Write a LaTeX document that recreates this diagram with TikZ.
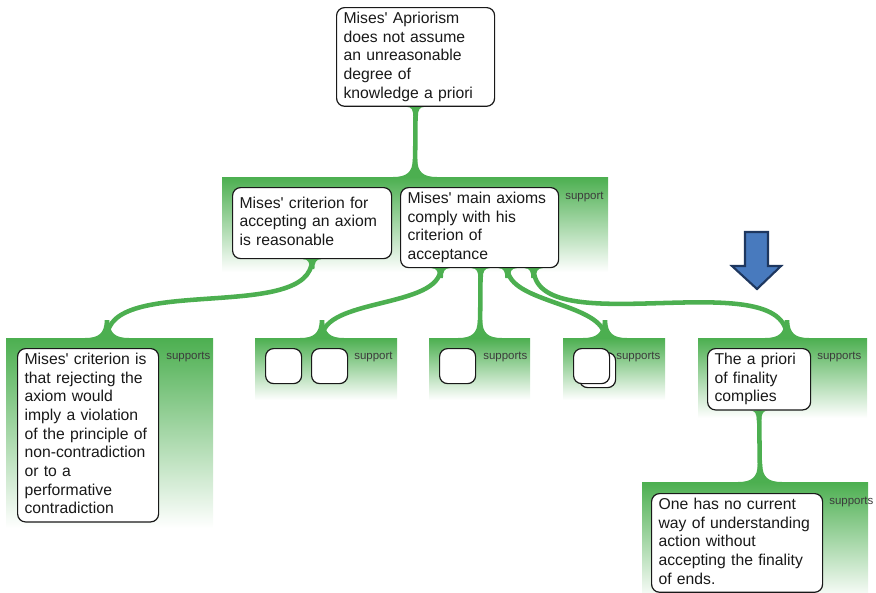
\documentclass[tikz,border=0pt]{standalone}
\usepackage{fontspec}
\setmainfont{Liberation Sans}
\usetikzlibrary{calc}
\pgfdeclarelayer{background}
\pgfsetlayers{background,main}
\definecolor{gr}{RGB}{76,175,80}
\definecolor{arrowfill}{RGB}{72,122,190}
\definecolor{arrowline}{RGB}{30,55,95}
\definecolor{ink}{RGB}{25,25,25}
\newcommand{\q}{\textquotesingle}
\begin{document}
\begin{tikzpicture}[x=0.75pt,y=-0.75pt,
 box/.style={draw=ink, line width=0.9pt, fill=white, rounded corners=6pt, anchor=north west, align=left, inner xsep=5.25pt, inner ysep=2pt, font=\fontsize{11.8}{14}\selectfont, text=ink},
 emptybox/.style={draw=ink, line width=0.9pt, fill=white, rounded corners=6pt, anchor=north west, minimum width=27pt, minimum height=26.25pt, inner sep=0pt},
 lab/.style={font=\fontsize{8.6}{10}\selectfont, text=ink!85, anchor=west, inner sep=0pt},
 grp/.style={top color=gr, bottom color=white, draw=none},
 conn/.style={draw=gr, line width=3.4pt},
 curve/.style={out=-90, in=90, looseness=0.75},
 pics/flaredown/.style={code={\fill[gr] (-2.3,-18) .. controls (-2.3,-5) and (-8,0) .. (-22,0) -- (22,0) .. controls (8,0) and (2.3,-5) .. (2.3,-18) -- cycle;}},
 pics/flareup/.style={code={\fill[gr] (-2.3,10) .. controls (-2.3,3) and (-4,0) .. (-9,0) -- (9,0) .. controls (4,0) and (2.3,3) .. (2.3,10) -- cycle;}},
]
\useasboundingbox (0,0) rectangle (876,593);

% boxes
\node[box, text width=108pt] (top) at (336,7) {\strut Mises\q\ Apriorism\\does not assume\\an unreasonable\\degree of\\knowledge a priori\strut};
\node[box, text width=108.75pt, minimum height=53.25pt] (crit) at (232,187) {\strut Mises\q\ criterion for\\accepting an axiom\\is reasonable\strut};
\node[box, text width=108pt] (main) at (400,187) {\strut Mises\q\ main axioms\\comply with his\\criterion of\\acceptance\strut};
\node[box, text width=95.25pt] (left) at (17,348) {\strut Mises\q\ criterion is\\that rejecting the\\axiom would\\imply a violation\\of the principle of\\non-contradiction\\or to a\\performative\\contradiction\strut};
\node[emptybox] (e1) at (265,348) {};
\node[emptybox] (e2) at (311,348) {};
\node[emptybox] (e3) at (439,348) {};
\node[emptybox] (e4b) at (579,352) {};
\node[emptybox] (e4) at (573,348) {};
\node[box, text width=66.75pt] (comp) at (707,348) {\strut The a priori\\of finality\\complies\strut};
\node[box, text width=117.75pt] (ends) at (651,493) {\strut One has no current\\way of understanding\\action without\\accepting the finality\\of ends.\strut};

% labels
\node[lab] (l1) at (565,197) {support};
\node[lab] (l2) at (166,357) {supports};
\node[lab] (l3) at (354,357) {support};
\node[lab] (l4) at (483,357) {supports};
\node[lab] (l5) at (616,357) {supports};
\node[lab] (l6) at (817,357) {supports};
\node[lab] (l7) at (829,502) {supports};

% junction points
\coordinate (j1) at (415,177);
\coordinate (jL) at (107,338);
\coordinate (j2) at (322,338);
\coordinate (j3) at (480,338);
\coordinate (j4) at (605,338);
\coordinate (j5) at (787,338);
\coordinate (j6) at (760,482);

% blue arrow
\filldraw[fill=arrowfill, draw=arrowline, line width=1.6pt, line join=miter] (745,232) -- (768,232) -- (768,266) -- (781,266) -- (757,289) -- (732,266) -- (745,266) -- cycle;

\begin{pgfonlayer}{background}
 \path[grp] (222,177) rectangle (608,272);
 \path[grp] (6,338) rectangle (213,528);
 \path[grp] (255,338) rectangle (397,400);
 \path[grp] (429,338) rectangle (530,400);
 \path[grp] (563,338) rectangle (665,400);
 \path[grp] (698,338) rectangle (867,418);
 \path[grp] (642,482) rectangle (868,600);

 \draw[conn] (top.south) -- (j1);
 \path (top.south) pic{flareup};
 \path (j1) pic{flaredown};

 \draw[conn] (crit.south) to[curve] (jL);
 \path (crit.south) pic{flareup};
 \path (jL) pic{flaredown};

 \coordinate (m1) at ($(main.south)+(-39,0)$);
 \coordinate (m2) at ($(main.south)+(1,0)$);
 \coordinate (m3) at ($(main.south)+(28,0)$);
 \coordinate (m4) at ($(main.south)+(54,0)$);
 \draw[conn] (m1) to[curve] (j2);
 \draw[conn] (m2) -- (j3);
 \draw[conn] (m3) to[curve] (j4);
 \draw[conn] (m4) to[curve] (j5);
 \foreach \m in {m1,m2,m3,m4} {\path (\m) pic{flareup};}
 \foreach \j in {j2,j3,j4,j5} {\path (\j) pic{flaredown};}

 \draw[conn] (comp.south) -- (j6);
 \path (comp.south) pic{flareup};
 \path (j6) pic{flaredown};
\end{pgfonlayer}
\end{tikzpicture}
\end{document}
